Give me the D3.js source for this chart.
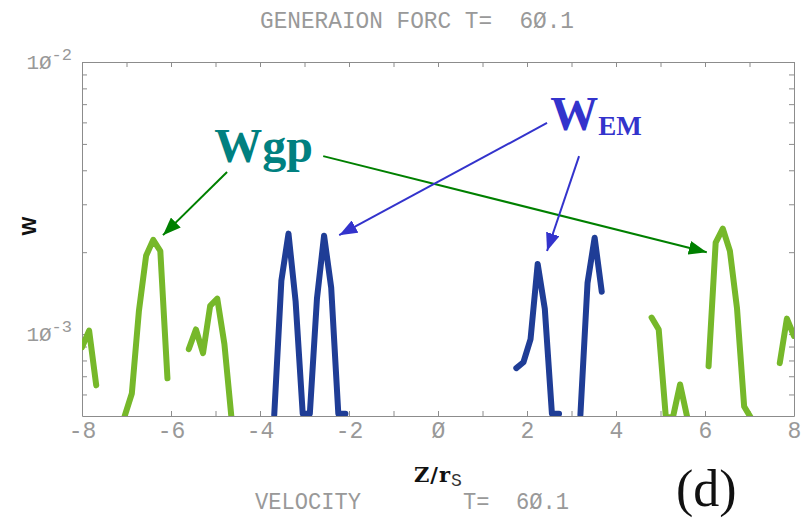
<!DOCTYPE html>
<html>
<head>
<meta charset="utf-8">
<script src="https://cdn.jsdelivr.net/npm/d3@7"></script>
<style>
  body { margin: 0; background: #fff; }
</style>
</head>
<body>
<div id="chart-area"></div>
<script>
// data: z/r_s, W  (pieces of the curves, broken where W drops out)
const wgpSegments = [
  [[-8.00, 8.95e-4], [-7.84, 1.03e-3], [-7.68, 6.48e-4]],
  [[-7.04, 5.0e-4], [-6.88, 6.05e-4], [-6.72, 1.22e-3], [-6.56, 1.94e-3], [-6.40, 2.22e-3], [-6.24, 2.02e-3], [-6.08, 6.88e-4]],
  [[-5.60, 8.81e-4], [-5.44, 1.04e-3], [-5.28, 8.51e-4], [-5.12, 1.27e-3], [-4.96, 1.35e-3], [-4.80, 9.19e-4], [-4.64, 4.9e-4]],
  [[4.80, 1.15e-3], [4.96, 1.04e-3], [5.12, 4.95e-4], [5.28, 4.95e-4], [5.44, 6.53e-4], [5.60, 4.95e-4]],
  [[6.08, 7.62e-4], [6.24, 2.17e-3], [6.40, 2.44e-3], [6.56, 2.02e-3], [6.72, 1.24e-3], [6.88, 5.42e-4], [7.04, 4.9e-4]],
  [[7.68, 7.82e-4], [7.84, 1.14e-3], [8.00, 9.84e-4]]
];

const wemSegments = [
  [[-3.68, 5.05e-4], [-3.52, 1.57e-3], [-3.36, 2.34e-3], [-3.20, 1.32e-3], [-3.04, 5.1e-4], [-2.88, 5.1e-4],
   [-2.72, 1.35e-3], [-2.56, 2.30e-3], [-2.40, 1.48e-3], [-2.24, 5.1e-4], [-2.08, 5.1e-4]],
  [[1.76, 7.5e-4], [1.92, 7.88e-4], [2.08, 9.59e-4], [2.24, 1.81e-3], [2.40, 1.24e-3], [2.56, 5.1e-4], [2.72, 5.1e-4]],
  [[3.20, 5.05e-4], [3.36, 1.54e-3], [3.52, 2.26e-3], [3.68, 1.43e-3]]
];

const xTickValues = [-8, -7, -6, -5, -4, -3, -2, -1, 0, 1, 2, 3, 4, 5, 6, 7, 8];
const xTickLabels = { "-8": "-8", "-6": "-6", "-4": "-4", "-2": "-2", "0": "Ø", "2": "2", "4": "4", "6": "6", "8": "8" };
const yTickValues = [6e-4, 7e-4, 8e-4, 9e-4, 1e-3, 2e-3, 3e-3, 4e-3, 5e-3, 6e-3, 7e-3, 8e-3, 9e-3, 1e-2];
const yDecades = [[1e-2, "-2"], [1e-3, "-3"]];

// annotation arrows in data coords [z, W]
const gpArrows = [
  [[-4.74, 3.94e-3], [-6.18, 2.31e-3]],
  [[-2.58, 4.51e-3], [6.04, 2.0e-3]]
];
const emArrows = [
  [[2.45, 5.97e-3], [-2.22, 2.31e-3]],
  [[3.17, 4.51e-3], [2.45, 2.02e-3]]
];

let margin = { left: 82, right: 14, top: 62, bottom: 104 };
let width = 808 - margin.left - margin.right;
let height = 520 - margin.top - margin.bottom;

const plotFont = "'Liberation Mono', monospace";
const plotGrey = "#999";

let svg = d3.select("#chart-area")
  .append("svg")
  .attr("width", 808)
  .attr("height", 520);

let g = svg.append("g")
  .attr("transform", "translate(" + margin.left + "," + margin.top + ")");

let x = d3.scaleLinear().domain([-8, 8]).range([0, width]);
let y = d3.scaleLog().domain([5e-4, 1e-2]).range([height, 0]);

// arrow markers
let defs = svg.append("defs");
[["gpHead", "#008000"], ["emHead", "#3333cc"]].forEach(function(m) {
  defs.append("marker")
    .attr("id", m[0])
    .attr("markerUnits", "userSpaceOnUse")
    .attr("markerWidth", 18).attr("markerHeight", 14)
    .attr("refX", 18).attr("refY", 7)
    .attr("orient", "auto")
    .append("path")
    .attr("d", "M0,0 L18,7 L0,14 Z")
    .attr("fill", m[1]);
});
defs.append("clipPath").attr("id", "plotClip")
  .append("rect").attr("width", width).attr("height", height);

// axes (ticks pointing in)
function styleAxis(sel) {
  sel.selectAll("path, line").attr("stroke", "#8c8c8c").attr("stroke-width", 1);
  sel.selectAll("text")
    .attr("font-family", plotFont)
    .attr("font-size", "23px")
    .attr("fill", plotGrey);
}

g.append("g")
  .attr("transform", "translate(0," + height + ")")
  .call(d3.axisBottom(x).tickValues(xTickValues).tickSizeInner(-5).tickSizeOuter(0).tickPadding(6)
    .tickFormat(function(d) { return xTickLabels[d] || ""; }))
  .call(styleAxis);

g.append("g")
  .call(d3.axisTop(x).tickValues(xTickValues).tickSizeInner(-5).tickSizeOuter(0).tickFormat(""))
  .call(styleAxis);

g.append("g")
  .call(d3.axisLeft(y).tickValues(yTickValues).tickSizeInner(-5).tickSizeOuter(0).tickFormat(""))
  .call(styleAxis);

g.append("g")
  .attr("transform", "translate(" + width + ",0)")
  .call(d3.axisRight(y).tickValues(yTickValues).tickSizeInner(-5).tickSizeOuter(0).tickFormat(""))
  .call(styleAxis);

// decade labels 1Ø^-n
yDecades.forEach(function(d) {
  let t = g.append("text")
    .attr("x", -10)
    .attr("y", y(d[0]) + 7)
    .attr("text-anchor", "end")
    .attr("font-family", plotFont)
    .attr("fill", plotGrey);
  t.append("tspan").attr("font-size", "21px").text("1Ø");
  t.append("tspan").attr("font-size", "17px").attr("dy", -9).text(d[1]);
});

// curves
let line = d3.line()
  .x(function(d) { return x(d[0]); })
  .y(function(d) { return y(d[1]); });

let curves = g.append("g").attr("clip-path", "url(#plotClip)");

curves.selectAll(".gp")
  .data(wgpSegments)
  .enter().append("path")
  .attr("class", "gp")
  .attr("d", line)
  .attr("fill", "none")
  .attr("stroke", "#76b82a")
  .attr("stroke-width", 6)
  .attr("stroke-linejoin", "round")
  .attr("stroke-linecap", "round");

curves.selectAll(".em")
  .data(wemSegments)
  .enter().append("path")
  .attr("class", "em")
  .attr("d", line)
  .attr("fill", "none")
  .attr("stroke", "#1f3d96")
  .attr("stroke-width", 6)
  .attr("stroke-linejoin", "round")
  .attr("stroke-linecap", "round");

// annotation arrows
g.selectAll(".gpArrow")
  .data(gpArrows)
  .enter().append("line")
  .attr("x1", function(d) { return x(d[0][0]); })
  .attr("y1", function(d) { return y(d[0][1]); })
  .attr("x2", function(d) { return x(d[1][0]); })
  .attr("y2", function(d) { return y(d[1][1]); })
  .attr("stroke", "#008000")
  .attr("stroke-width", 2)
  .attr("marker-end", "url(#gpHead)");

g.selectAll(".emArrow")
  .data(emArrows)
  .enter().append("line")
  .attr("x1", function(d) { return x(d[0][0]); })
  .attr("y1", function(d) { return y(d[0][1]); })
  .attr("x2", function(d) { return x(d[1][0]); })
  .attr("y2", function(d) { return y(d[1][1]); })
  .attr("stroke", "#3333cc")
  .attr("stroke-width", 2)
  .attr("marker-end", "url(#emHead)");

// annotation labels
g.append("text")
  .attr("x", x(-5.03))
  .attr("y", y(4.28e-3))
  .attr("font-family", "'Liberation Serif', serif")
  .attr("font-weight", "bold")
  .attr("font-size", "48px")
  .attr("fill", "#008080")
  .text("Wgp");

let em = g.append("text")
  .attr("x", x(2.52))
  .attr("y", y(5.62e-3))
  .attr("font-family", "'Liberation Serif', serif")
  .attr("font-weight", "bold")
  .attr("fill", "#3333cc");
em.append("tspan").attr("font-size", "48px").text("W");
em.append("tspan").attr("font-size", "27px").attr("dy", 5).text("EM");

// titles
svg.append("text")
  .attr("x", 260).attr("y", 28)
  .attr("font-family", plotFont).attr("font-size", "24px")
  .attr("fill", plotGrey)
  .attr("textLength", 314).attr("lengthAdjust", "spacingAndGlyphs")
  .style("white-space", "pre")
  .text("GENERAION FORC T=  6Ø.1");

svg.append("text")
  .attr("x", 255).attr("y", 509)
  .attr("font-family", plotFont).attr("font-size", "24px")
  .attr("fill", plotGrey)
  .attr("textLength", 106).attr("lengthAdjust", "spacingAndGlyphs")
  .text("VELOCITY");

svg.append("text")
  .attr("x", 463).attr("y", 509)
  .attr("font-family", plotFont).attr("font-size", "24px")
  .attr("fill", plotGrey)
  .attr("textLength", 106).attr("lengthAdjust", "spacingAndGlyphs")
  .style("white-space", "pre")
  .text("T=  6Ø.1");

// Y LABEL
svg.append("text")
  .attr("transform", "translate(36,226) rotate(-90)")
  .attr("text-anchor", "middle")
  .attr("font-family", "'Liberation Sans', sans-serif")
  .attr("font-weight", "bold")
  .attr("font-size", "20px")
  .attr("fill", "#111")
  .text("W");

// X LABEL
let xl = svg.append("text")
  .attr("x", 414).attr("y", 482)
  .attr("fill", "#111");
xl.append("tspan")
  .attr("font-family", "'DejaVu Serif', serif")
  .attr("font-weight", "bold")
  .attr("font-size", "21px")
  .attr("letter-spacing", "1px")
  .text("Z/r");
xl.append("tspan")
  .attr("font-family", plotFont)
  .attr("font-size", "18px")
  .attr("fill", "#333")
  .attr("dy", 4)
  .text("S");

svg.append("text")
  .attr("x", 676).attr("y", 506)
  .attr("font-family", "'Liberation Serif', serif")
  .attr("font-size", "52px")
  .attr("fill", "#111")
  .text("(d)");
</script>
</body>
</html>
